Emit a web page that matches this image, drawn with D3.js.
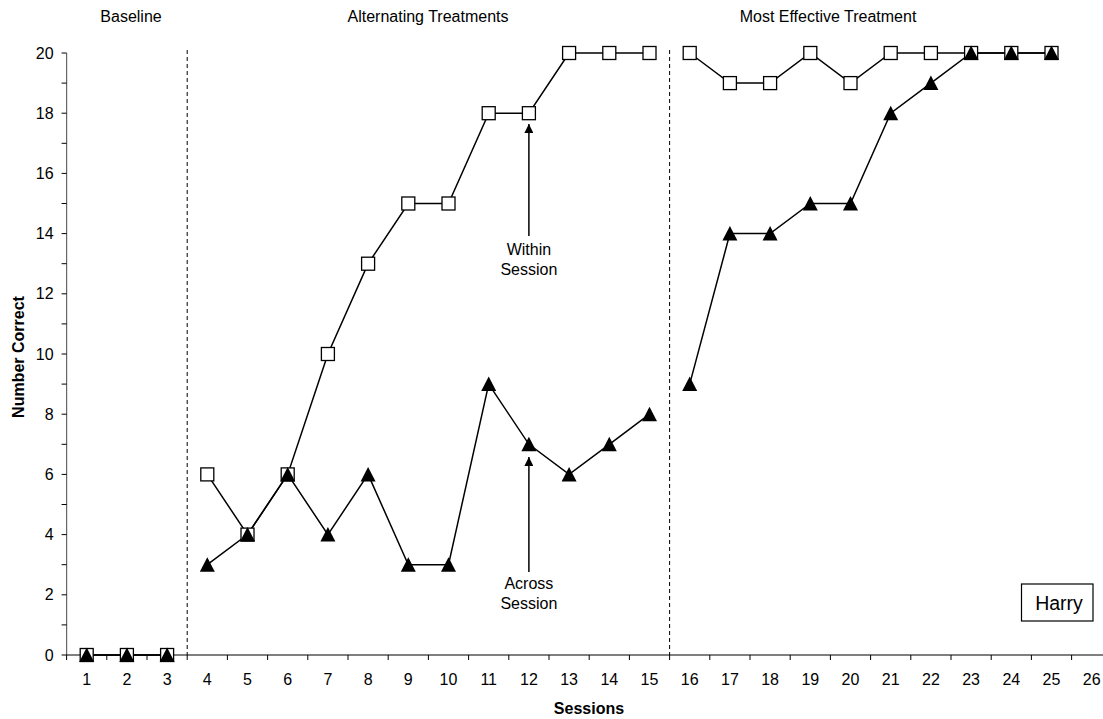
<!DOCTYPE html>
<html><head><meta charset="utf-8">
<script src="https://cdn.jsdelivr.net/npm/d3@7"></script>
<style>body{margin:0;background:#fff;}svg{display:block;font-family:"Liberation Sans",Arial,sans-serif;}</style>
</head><body>
<svg id="c" width="1103" height="719"></svg>
<script>
const sessions = d3.range(1, 26);
const withinSession = [0,0,0, 6,4,6,10,13,15,15,18,18,20,20,20, 20,19,19,20,19,20,20,20,20,20];
const acrossSession = [0,0,0, 3,4,6,4,6,3,3,9,7,6,7,8, 9,14,14,15,15,18,19,20,20,20];
const phases = [{name:"Baseline", from:1, to:3},{name:"Alternating Treatments", from:4, to:15},{name:"Most Effective Treatment", from:16, to:25}];
const phaseLabelCenters = [131, 428, 828];
const xTickLabels = d3.range(1, 27).map(String);
const yTickValues = d3.range(0, 21, 2);

const svg = d3.select("#c");
const x = d3.scaleLinear().domain([0.5, 26.5]).range([66.6, 1111.8]);
const y = d3.scaleLinear().domain([0, 20]).range([655, 53]);
const FS = 16;

// y axis
const yAxis = svg.append("g").attr("transform","translate(66.6,0)");
yAxis.append("line").attr("y1", y(0)).attr("y2", y(20)).attr("stroke","#666").attr("stroke-width",1.2);
d3.range(0,21).forEach(v=>{
  yAxis.append("line").attr("x1",-5).attr("x2",0).attr("y1",y(v)).attr("y2",y(v)).attr("stroke","#000");
});
yTickValues.forEach(v=>{
  yAxis.append("text").attr("x",-13).attr("y",y(v)).attr("dy","0.35em").attr("text-anchor","end")
    .attr("font-size",FS).text(v);
});
// x axis
const xAxis = svg.append("g").attr("transform",`translate(0,${y(0)})`);
xAxis.append("line").attr("x1",x(0.5)).attr("x2",x(26.5)).attr("stroke","#000").attr("stroke-width",1.2);
d3.range(0,27).forEach(i=>{
  xAxis.append("line").attr("x1",x(i+0.5)).attr("x2",x(i+0.5)).attr("y1",0).attr("y2",5).attr("stroke","#000");
});
xTickLabels.forEach((t,i)=>{
  xAxis.append("text").attr("x",x(i+1)).attr("y",24).attr("dy","0.35em").attr("text-anchor","middle").attr("font-size",FS).text(t);
});

// phase lines
[3.5, 15.5].forEach(v=>{
  svg.append("line").attr("x1",x(v)).attr("x2",x(v)).attr("y1",50).attr("y2",y(0))
    .attr("stroke","#000").attr("stroke-dasharray","4,3").attr("stroke-width",1);
});
phases.forEach((p,i)=>{
  svg.append("text").attr("x",phaseLabelCenters[i]).attr("y",16).attr("dy","0.35em").attr("text-anchor","middle")
    .attr("font-size",FS).text(p.name);
});

// lines per phase
const line = d3.line().x(d=>x(d.s)).y(d=>y(d.v));
function seg(vals){
  return phases.map(p=>sessions.filter(s=>s>=p.from&&s<=p.to).map(s=>({s, v: vals[s-1]})));
}
[withinSession, acrossSession].forEach(vals=>{
  seg(vals).forEach(pts=>{
    svg.append("path").attr("d",line(pts)).attr("fill","none").attr("stroke","#000").attr("stroke-width",1.5);
  });
});
// squares
svg.selectAll("rect.sq").data(sessions).enter().append("rect")
  .attr("x",s=>x(s)-6.5).attr("y",(s)=>y(withinSession[s-1])-6.5).attr("width",13).attr("height",13)
  .attr("fill","#fff").attr("stroke","#000").attr("stroke-width",1.3);
// triangles
svg.selectAll("path.tr").data(sessions).enter().append("path")
  .attr("d","M0,-7.5L7.5,7L-7.5,7Z").attr("transform",s=>`translate(${x(s)},${y(acrossSession[s-1])})`).attr("fill","#000");

// annotations
svg.append("defs").append("marker").attr("id","ah").attr("viewBox","0 0 10 10").attr("refX",10).attr("refY",5)
  .attr("markerWidth",9).attr("markerHeight",9).attr("markerUnits","userSpaceOnUse").attr("orient","auto")
  .append("path").attr("d","M0,0L10,5L0,10Z").attr("fill","#000");
function annot(s, tipY, bottomY, lines, textY){
  svg.append("line").attr("x1",x(s)).attr("x2",x(s)).attr("y1",bottomY).attr("y2",tipY)
    .attr("stroke","#000").attr("stroke-width",1.5).attr("marker-end","url(#ah)");
  lines.forEach((t,i)=>{
    svg.append("text").attr("x",x(s)).attr("y",textY+i*20.5).attr("dy","0.35em").attr("text-anchor","middle")
      .attr("font-size",FS).text(t);
  });
}
annot(12, 124, 236, ["Within","Session"], 249);
annot(12, 457, 572, ["Across","Session"], 583);

// Harry box
svg.append("rect").attr("x",1021.5).attr("y",584).attr("width",71.5).attr("height",37).attr("fill","#fff").attr("stroke","#000").attr("stroke-width",1.2);
svg.append("text").attr("x",1059).attr("y",603).attr("dy","0.35em").attr("text-anchor","middle").attr("font-size",19.5).text("Harry");

// axis titles
svg.append("text").attr("x",589).attr("y",708).attr("dy","0.35em").attr("text-anchor","middle").attr("font-size",FS).attr("font-weight","bold").text("Sessions");
svg.append("text").attr("transform","translate(18,357) rotate(-90)").attr("dy","0.35em").attr("text-anchor","middle").attr("font-size",FS).attr("font-weight","bold").text("Number Correct");
</script>
</body></html>
